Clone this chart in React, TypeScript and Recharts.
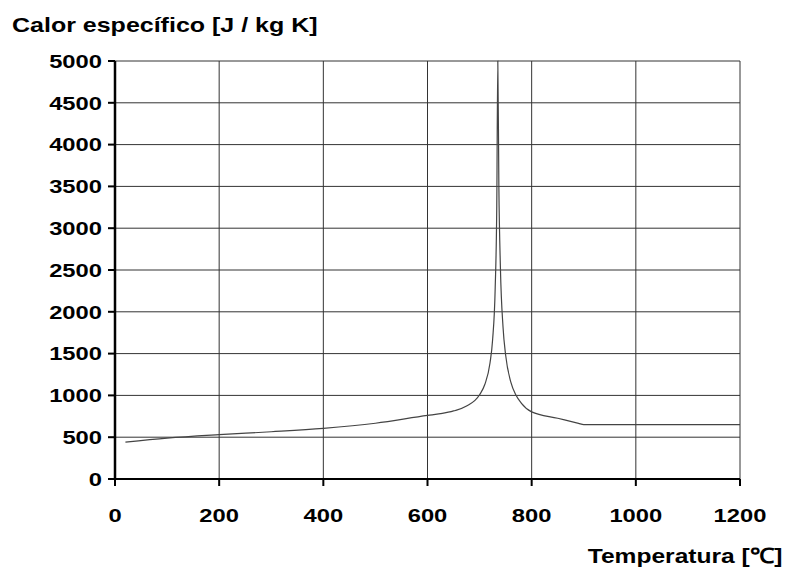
import { LineChart, Line, XAxis, YAxis, CartesianGrid } from 'recharts'

const temps = [20, 100, 200, 300, 400, 500, 600, 625, 650, 675, 700, 710, 720, 725, 730, 733, 735, 737, 740, 745, 750, 760, 770, 780, 800, 850, 890, 900, 1200]
const heat = [440, 488, 530, 565, 606, 667, 760, 781, 814, 872, 1008, 1130, 1388, 1666, 2291, 3266, 5000, 3515, 2525, 1818, 1483, 1159, 1002, 909, 803, 727, 666, 650, 650]
const xTicks = [0, 200, 400, 600, 800, 1000, 1200]
const yTicks = [0, 500, 1000, 1500, 2000, 2500, 3000, 3500, 4000, 4500, 5000]

const data = temps.map((t, i) => ({ t, c: heat[i] }))

const FONT = '"Liberation Sans", Arial, sans-serif'

// the source image is stretched sideways, so the labels are too
function StretchTick(props: any) {
  const { x, y, payload, textAnchor, dy } = props
  return (
    <g transform={`translate(${x},${y})`}>
      <text
        transform="scale(1.25,1)"
        textAnchor={textAnchor}
        dy={dy}
        fill="#000"
        fontSize={19}
        fontWeight={700}
        fontFamily={FONT}
      >
        {payload.value}
      </text>
    </g>
  )
}

const XTick = (p: any) => <StretchTick {...p} dy="0.71em" />
const YTick = (p: any) => <StretchTick {...p} dy="0.355em" />

export default function App() {
  const labelStyle: React.CSSProperties = {
    position: 'absolute',
    fontSize: 21,
    lineHeight: '24px',
    fontWeight: 700,
    color: '#000',
    whiteSpace: 'nowrap',
  }
  return (
    <div style={{ position: 'absolute', left: 0, top: 0, width: 786, height: 568, background: '#fff', fontFamily: FONT }}>
      <div style={{ ...labelStyle, left: 12, top: 13, transform: 'scaleX(1.19)', transformOrigin: 'left top' }}>
        Calor específico [J / kg K]
      </div>
      <LineChart width={786} height={568} data={data} margin={{ top: 61, right: 46, bottom: 49, left: 0 }}>
        <CartesianGrid stroke="#333" strokeWidth={1} />
        <XAxis
          dataKey="t"
          type="number"
          domain={[0, 1200]}
          ticks={xTicks}
          height={40}
          tickSize={7}
          tickMargin={22}
          tick={XTick}
          axisLine={{ stroke: '#000', strokeWidth: 2 }}
          tickLine={{ stroke: '#000', strokeWidth: 2 }}
        />
        <YAxis
          type="number"
          domain={[0, 5000]}
          ticks={yTicks}
          width={115}
          tickSize={7}
          tickMargin={6}
          tick={YTick}
          axisLine={{ stroke: '#000', strokeWidth: 2.5 }}
          tickLine={{ stroke: '#000', strokeWidth: 2 }}
        />
        <Line
          dataKey="c"
          type="monotone"
          stroke="#444"
          strokeWidth={1.2}
          dot={false}
          isAnimationActive={false}
        />
      </LineChart>
      <div style={{ ...labelStyle, right: 4, top: 544, transform: 'scaleX(1.17)', transformOrigin: 'right top' }}>
        Temperatura [℃]
      </div>
    </div>
  )
}
